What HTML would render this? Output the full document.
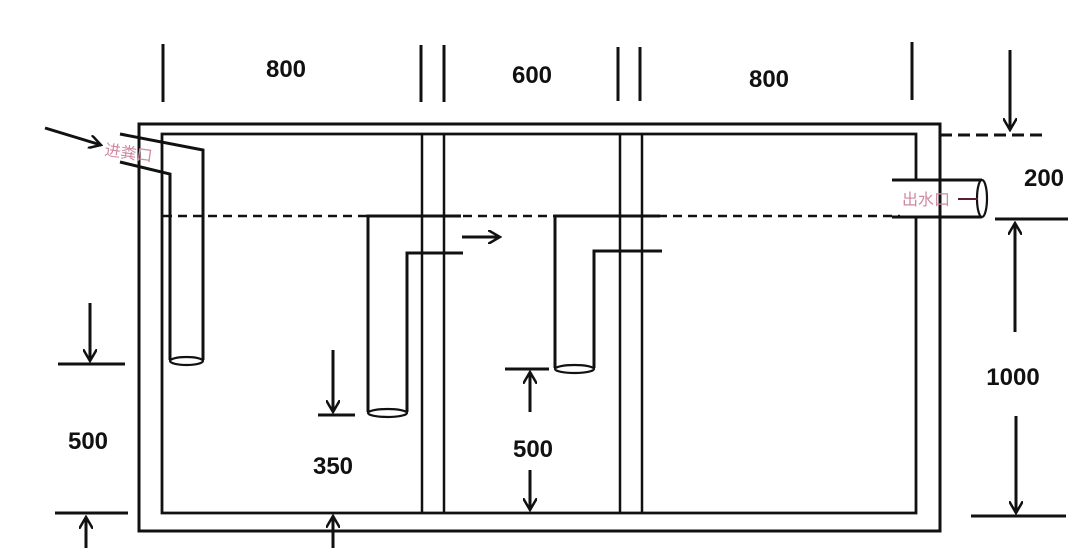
<!DOCTYPE html>
<html><head><meta charset="utf-8"><style>html,body{margin:0;padding:0;background:#fff}svg{display:block}</style></head>
<body>
<svg width="1070" height="548" viewBox="0 0 1070 548" xmlns="http://www.w3.org/2000/svg">
<defs>
<marker id="b" viewBox="0 0 14 14" refX="12" refY="7" markerWidth="14" markerHeight="14" orient="auto" markerUnits="userSpaceOnUse"><path d="M0,0 L12,7 L0,14" fill="none" stroke="#111" stroke-width="2.5"/></marker></defs>
<g stroke="#111" stroke-width="3" fill="none">
<path d="M139,124 H940 V531 H139 Z"/>
<path d="M162,134 H916 V513 H162 Z" stroke-width="2.8"/>
<line x1="422" y1="134" x2="422" y2="513" stroke-width="2.5"/>
<line x1="444" y1="134" x2="444" y2="513" stroke-width="2.5"/>
<line x1="620" y1="134" x2="620" y2="513" stroke-width="2.5"/>
<line x1="642" y1="134" x2="642" y2="513" stroke-width="2.5"/>
<line x1="163" y1="216" x2="916" y2="216" stroke-dasharray="9,6" stroke-width="2.5"/>
<path d="M120,134 L203,150 V360"/>
<path d="M120,162 L170,174 V360"/>
<ellipse cx="186.5" cy="361" rx="16.5" ry="4" fill="#fff" stroke-width="2.2"/>
<path d="M461,216 H368 V412"/>
<path d="M463,253 H407 V412"/>
<ellipse cx="387.5" cy="413" rx="19.5" ry="4" fill="#fff" stroke-width="2.2"/>
<path d="M660,216 H555 V368"/>
<path d="M662,251 H594 V368"/>
<ellipse cx="574.5" cy="369" rx="19.5" ry="4" fill="#fff" stroke-width="2.2"/>
<rect x="900" y="181" width="20" height="35" fill="#fff" stroke="none"/>
<path d="M892,180 H982 M892,217 H982"/>
<ellipse cx="982" cy="198.5" rx="5" ry="18.5" fill="#fff" stroke-width="2.2"/>
<line x1="940" y1="135" x2="1045" y2="135" stroke-dasharray="12,6"/>
<line x1="163" y1="44" x2="163" y2="102"/>
<line x1="421" y1="45" x2="421" y2="102"/>
<line x1="444" y1="45" x2="444" y2="102"/>
<line x1="618" y1="47" x2="618" y2="101"/>
<line x1="640" y1="47" x2="640" y2="101"/>
<line x1="912" y1="42" x2="912" y2="100"/>
<line x1="1010" y1="50" x2="1010" y2="130" marker-end="url(#b)"/>
<line x1="995" y1="219" x2="1068" y2="219"/>
<line x1="1015" y1="332" x2="1015" y2="223" marker-end="url(#b)"/>
<line x1="1016" y1="416" x2="1016" y2="513" marker-end="url(#b)"/>
<line x1="971" y1="516" x2="1066" y2="516"/>
<line x1="90" y1="303" x2="90" y2="361" marker-end="url(#b)"/>
<line x1="58" y1="364" x2="125" y2="364"/>
<line x1="55" y1="513" x2="128" y2="513"/>
<line x1="86" y1="548" x2="86" y2="517" marker-end="url(#b)"/>
<line x1="333" y1="350" x2="333" y2="412" marker-end="url(#b)"/>
<line x1="318" y1="415" x2="355" y2="415"/>
<line x1="333" y1="548" x2="333" y2="516" marker-end="url(#b)"/>
<line x1="505" y1="369" x2="549" y2="369"/>
<line x1="530" y1="412" x2="530" y2="372" marker-end="url(#b)"/>
<line x1="530" y1="470" x2="530" y2="510" marker-end="url(#b)"/>
<line x1="462" y1="237" x2="500" y2="237" marker-end="url(#b)"/>
<line x1="45" y1="128" x2="101" y2="145" marker-end="url(#b)"/>
<line x1="958" y1="199" x2="978" y2="199" stroke="#5a2030" stroke-width="2"/>
</g>
<g font-family="'Liberation Sans','DejaVu Sans',sans-serif" font-size="24" font-weight="bold" fill="#111" text-anchor="middle">
<text x="286" y="77">800</text>
<text x="532" y="83">600</text>
<text x="769" y="87">800</text>
<text x="1044" y="186">200</text>
<text x="1013" y="385">1000</text>
<text x="88" y="449">500</text>
<text x="333" y="474">350</text>
<text x="533" y="457">500</text>
</g>
<g font-family="'Liberation Sans','Noto Sans CJK SC',sans-serif" font-size="16" fill="#d08aa0">
<text x="104" y="155" transform="rotate(8 104 155)">进粪口</text>
<text x="902" y="205">出水口</text>
</g>
</svg>
</body></html>
